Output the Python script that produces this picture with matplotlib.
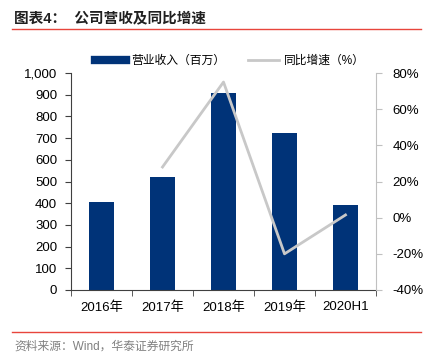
import matplotlib
matplotlib.use("Agg")
import matplotlib.pyplot as plt
from matplotlib.lines import Line2D
from matplotlib.ticker import FuncFormatter

plt.rcParams['font.family'] = ['Liberation Sans', 'Noto Sans CJK SC', 'DejaVu Sans']

# data
years = ['2016年', '2017年', '2018年', '2019年', '2020H1']
revenue = [405, 520, 910, 725, 392]
growth_x = [1, 2, 3, 4]
growth = [28, 75, -20, 1.5]

bar_color = '#003378'
line_color = '#c8c8c8'

fig = plt.figure(figsize=(4.28, 3.62), dpi=100)
ax = fig.add_axes([71/428, 1 - 290/362, 305/428, 217/362])
ax2 = ax.twinx()

xs = list(range(len(years)))
ax.bar(xs, revenue, width=0.42, color=bar_color, zorder=2)
ax2.plot(growth_x, growth, color=line_color, linewidth=2, zorder=3)

ax.set_xlim(-0.5, 4.5)
ax.set_ylim(0, 1000)
ax.set_yticks(range(0, 1001, 100))
ax.yaxis.set_major_formatter(FuncFormatter(lambda v, p: f'{int(v):,}'))
ax2.set_ylim(-40, 80)
ax2.set_yticks(range(-40, 81, 20))
ax2.yaxis.set_major_formatter(FuncFormatter(lambda v, p: f'{int(v)}%'))

ax.set_xticks(xs)
ax.set_xticklabels(years)
ax.set_xticks([x + 0.5 for x in [-1] + xs], minor=True)
ax.tick_params(axis='x', which='major', length=0, pad=8, labelsize=9.5)
ax.tick_params(axis='x', which='minor', length=4, direction='out', color='#404040')
ax.tick_params(axis='y', length=4, color='#404040', labelsize=9.5, pad=6)
ax2.tick_params(axis='y', length=4, color='#c0c0c0', labelsize=9.5, pad=8)

for a in (ax, ax2):
    a.spines['top'].set_visible(False)
ax.spines['left'].set_color('#404040')
ax.spines['bottom'].set_color('#404040')
ax.spines['right'].set_visible(False)
ax2.spines['left'].set_visible(False)
ax2.spines['bottom'].set_visible(False)
ax2.spines['right'].set_color('#c0c0c0')

handles = [Line2D([], [], color=bar_color, linewidth=6),
           Line2D([], [], color=line_color, linewidth=2)]
fig.legend(handles, ['营业收入（百万）', '同比增速（%）'], loc='center',
           bbox_to_anchor=(230/428, 1 - 61/362), ncol=2, frameon=False,
           fontsize=8.5, handlelength=2.6, columnspacing=2.0, handletextpad=0.4)

# header and footer
fig.text(14/428, 1 - 18/362, '图表4：  公司营收及同比增速', fontsize=10.5,
         fontweight='bold', va='center', ha='left', color='#202020')
fig.add_artist(Line2D([12/428, 421/428], [1 - 29/362] * 2, color='#e8453c', linewidth=1))
fig.add_artist(Line2D([12/428, 421/428], [1 - 332/362] * 2, color='#e8453c', linewidth=1))
fig.text(14/428, 1 - 347/362, '资料来源：Wind，华泰证券研究所', fontsize=8.5,
         va='center', ha='left', color='#808080')

fig.savefig('out.png', dpi=100)
